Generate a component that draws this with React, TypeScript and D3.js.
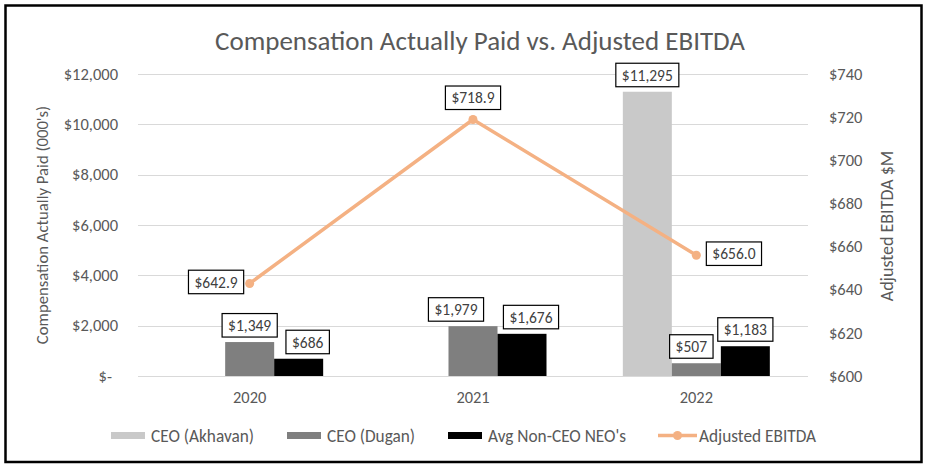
import React, { useEffect, useRef } from "react";
import * as d3 from "d3";

const years = ["2020", "2021", "2022"];
const seriesNames = ["CEO (Akhavan)", "CEO (Dugan)", "Avg Non-CEO NEO's"];
const akhavan = [0, 0, 11295];
const dugan = [1349, 1979, 507];
const nonCeo = [686, 1676, 1183];
const ebitda = [642.9, 718.9, 656.0];
const leftTicks = [0, 2000, 4000, 6000, 8000, 10000, 12000];
const rightTicks = [600, 620, 640, 660, 680, 700, 720, 740];
const lineName = "Adjusted EBITDA";

// label nudges (layout only)
const barLabelDx = [
  [0, 0, 0],
  [0, -17, -5],
  [9, 9, 0],
];

const W = 930;
const H = 472;
const FONT = "Carlito, Calibri, Lato, sans-serif";
const TEXT = "#595959";
const colors = ["#C9C9C9", "#7F7F7F", "#000000"];
const lineColor = "#F4B183";

export default function App() {
  const ref = useRef<SVGSVGElement | null>(null);

  useEffect(() => {
    const svg = d3.select(ref.current);
    svg.selectAll("*").remove();

    const plot = { left: 138, right: 808, top: 74, bottom: 376 };

    svg
      .append("rect")
      .attr("x", 5.5)
      .attr("y", 5.5)
      .attr("width", 916)
      .attr("height", 456.5)
      .attr("fill", "white")
      .attr("stroke", "#000")
      .attr("stroke-width", 2.5);

    const x0 = d3.scaleBand<string>().domain(years).range([plot.left, plot.right]).padding(0);
    const bw = x0.bandwidth();
    const groupW = 147;
    const x1 = d3
      .scaleBand<string>()
      .domain(seriesNames)
      .range([(bw - groupW) / 2, (bw + groupW) / 2])
      .padding(0);
    const yL = d3.scaleLinear().domain([0, 12000]).range([plot.bottom, plot.top]);
    const yR = d3.scaleLinear().domain([600, 740]).range([plot.bottom, plot.top]);

    svg
      .append("text")
      .attr("x", 480)
      .attr("y", 50)
      .attr("text-anchor", "middle")
      .attr("font-family", FONT)
      .attr("font-size", 27)
      .attr("fill", TEXT)
      .text("Compensation Actually Paid vs. Adjusted EBITDA");

    svg
      .append("g")
      .selectAll("line")
      .data(leftTicks)
      .join("line")
      .attr("x1", plot.left)
      .attr("x2", plot.right)
      .attr("y1", (d) => Math.round(yL(d)) + 0.5)
      .attr("y2", (d) => Math.round(yL(d)) + 0.5)
      .attr("stroke", "#D9D9D9")
      .attr("stroke-width", 1);

    const fmt = d3.format(",");
    svg
      .append("g")
      .selectAll("text")
      .data(leftTicks)
      .join("text")
      .attr("x", (d) => (d === 0 ? 112 : 118))
      .attr("y", (d) => yL(d))
      .attr("dy", "0.35em")
      .attr("text-anchor", "end")
      .attr("font-family", FONT)
      .attr("font-size", 16.5)
      .attr("fill", TEXT)
      .text((d) => (d === 0 ? "$-" : "$" + fmt(d)));

    svg
      .append("g")
      .selectAll("text")
      .data(rightTicks)
      .join("text")
      .attr("x", 829)
      .attr("y", (d) => yR(d))
      .attr("dy", "0.35em")
      .attr("text-anchor", "start")
      .attr("font-family", FONT)
      .attr("font-size", 16.5)
      .attr("fill", TEXT)
      .text((d) => "$" + d);

    svg
      .append("text")
      .attr("transform", `translate(48,225) rotate(-90)`)
      .attr("text-anchor", "middle")
      .attr("font-family", FONT)
      .attr("font-size", 16.7)
      .attr("fill", TEXT)
      .text("Compensation Actually Paid (000's)");
    svg
      .append("text")
      .attr("transform", `translate(893,226) rotate(-90)`)
      .attr("text-anchor", "middle")
      .attr("font-family", FONT)
      .attr("font-size", 18)
      .attr("fill", TEXT)
      .text("Adjusted EBITDA $M");

    svg
      .append("g")
      .selectAll("text")
      .data(years)
      .join("text")
      .attr("x", (d) => (x0(d) as number) + bw / 2)
      .attr("y", 403)
      .attr("text-anchor", "middle")
      .attr("font-family", FONT)
      .attr("font-size", 16.4)
      .attr("fill", TEXT)
      .text((d) => d);

    const seriesVals = [akhavan, dugan, nonCeo];
    const barData: { yi: number; si: number; v: number }[] = [];
    seriesVals.forEach((arr, si) => arr.forEach((v, yi) => barData.push({ yi, si, v })));
    const bars = barData.filter((d) => d.v > 0);
    svg
      .append("g")
      .selectAll("rect")
      .data(bars)
      .join("rect")
      .attr("x", (d) => (x0(years[d.yi]) as number) + (x1(seriesNames[d.si]) as number))
      .attr("width", x1.bandwidth())
      .attr("y", (d) => yL(d.v))
      .attr("height", (d) => yL(0) - yL(d.v))
      .attr("fill", (d) => colors[d.si]);

    const line = d3
      .line<number>()
      .x((_, i) => (x0(years[i]) as number) + bw / 2)
      .y((d) => yR(d));
    svg
      .append("path")
      .datum(ebitda)
      .attr("d", line)
      .attr("fill", "none")
      .attr("stroke", lineColor)
      .attr("stroke-width", 3.5)
      .attr("stroke-linejoin", "round");
    svg
      .append("g")
      .selectAll("circle")
      .data(ebitda)
      .join("circle")
      .attr("cx", (_, i) => (x0(years[i]) as number) + bw / 2)
      .attr("cy", (d) => yR(d))
      .attr("r", 4.5)
      .attr("fill", lineColor);

    const labels = svg.append("g");
    const boxH = 23.5;
    function label(text: string, cx: number | null, cy: number, opts: { left?: number; right?: number; bottom?: number }) {
      const g = labels.append("g");
      const rect = g.append("rect").attr("fill", "white").attr("stroke", "#000").attr("stroke-width", 1.2);
      const t = g
        .append("text")
        .attr("font-family", FONT)
        .attr("font-size", 15.5)
        .attr("fill", "#404040")
        .attr("text-anchor", "middle")
        .attr("dy", "0.36em")
        .text(text);
      const tw = (t.node() as SVGTextElement).getComputedTextLength();
      const bwid = tw + 12;
      let bx: number;
      let by: number;
      if (opts.right !== undefined) {
        bx = opts.right - bwid;
        by = cy - boxH / 2;
      } else if (opts.left !== undefined) {
        bx = opts.left;
        by = cy - boxH / 2;
      } else {
        bx = (cx as number) - bwid / 2;
        by = (opts.bottom as number) - boxH;
      }
      rect.attr("x", bx).attr("y", by).attr("width", bwid).attr("height", boxH);
      t.attr("x", bx + bwid / 2).attr("y", by + boxH / 2);
    }

    bars.forEach((d) => {
      const cx = (x0(years[d.yi]) as number) + (x1(seriesNames[d.si]) as number) + x1.bandwidth() / 2;
      label("$" + fmt(d.v), cx + barLabelDx[d.si][d.yi], 0, { bottom: yL(d.v) - 5 });
    });

    const ex = (i: number) => (x0(years[i]) as number) + bw / 2;
    const f1 = d3.format(".1f");
    label("$" + f1(ebitda[0]), null, yR(ebitda[0]) - 1.5, { right: ex(0) - 6 });
    label("$" + f1(ebitda[1]), ex(1), 0, { bottom: yR(ebitda[1]) - 10 });
    label("$" + f1(ebitda[2]), null, yR(ebitda[2]) - 1.5, { left: ex(2) + 10 });

    const legend = svg.append("g").attr("font-family", FONT).attr("font-size", 17.3).attr("fill", TEXT);
    const legX = [111, 287, 448];
    seriesNames.forEach((name, i) => {
      legend
        .append("rect")
        .attr("x", legX[i])
        .attr("y", 432)
        .attr("width", 34)
        .attr("height", 7)
        .attr("fill", colors[i]);
      legend
        .append("text")
        .attr("x", legX[i] + 40)
        .attr("y", 435.5)
        .attr("dy", "0.35em")
        .text(name);
    });
    legend
      .append("line")
      .attr("x1", 658)
      .attr("x2", 697)
      .attr("y1", 435.5)
      .attr("y2", 435.5)
      .attr("stroke", lineColor)
      .attr("stroke-width", 3.5);
    legend.append("circle").attr("cx", 677.5).attr("cy", 435.5).attr("r", 4.5).attr("fill", lineColor);
    legend
      .append("text")
      .attr("x", 699)
      .attr("y", 435.5)
      .attr("dy", "0.35em")
      .text(lineName);
  }, []);

  return (
    <svg
      ref={ref}
      width={W}
      height={H}
      style={{ position: "absolute", left: 0, top: 0, display: "block" }}
    />
  );
}
